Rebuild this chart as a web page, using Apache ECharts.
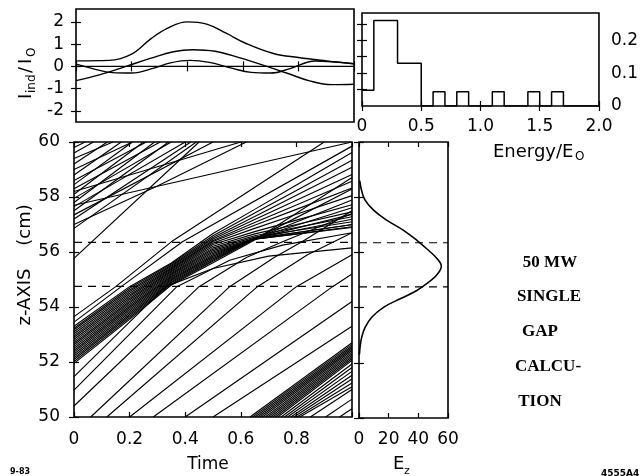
<!DOCTYPE html>
<html><head><meta charset="utf-8">
<script src="https://cdn.jsdelivr.net/npm/echarts@6/dist/echarts.min.js"></script>
<style>html,body{margin:0;padding:0;background:#fff}#c{width:641px;height:476px}</style>
</head><body><div id="c"></div>
<script>
// ---------- induced current panel (Time, I_ind/I_O) ----------
const currentA = [[0,0.25],[0.12,0.27],[0.2,0.55],[0.27,1.25],[0.33,1.72],[0.4,2.0],[0.47,1.9],[0.54,1.49],[0.61,1.04],[0.71,0.58],[0.8,0.4],[0.9,0.25],[1.0,0.12]];
const currentB = [[0,-0.64],[0.084,-0.38],[0.18,0.0],[0.27,0.37],[0.35,0.66],[0.42,0.75],[0.5,0.68],[0.59,0.38],[0.67,0.07],[0.76,-0.31],[0.84,-0.65],[0.92,-0.82],[1.0,-0.8]];
const currentC = [[0,0.1],[0.06,-0.1],[0.13,-0.28],[0.2,-0.3],[0.28,-0.08],[0.34,0.16],[0.41,0.27],[0.48,0.18],[0.56,-0.08],[0.63,-0.27],[0.7,-0.3],[0.77,-0.1],[0.86,0.24],[0.93,0.2],[1.0,0.12]];
const currentZero = [[0,0],[1,0]];
const currentTicks = [-2,-1,0,1,2];

// ---------- energy histogram ----------
const energyBinStart = [0,0.1,0.2,0.3,0.4,0.5,0.6,0.7,0.8,0.9,1.0,1.1,1.2,1.3,1.4,1.5,1.6,1.7,1.8,1.9,2.0];
const energyFraction = [0.048,0.26,0.26,0.13,0.13,0,0.043,0,0.043,0,0,0.043,0,0,0.043,0,0.043,0,0,0,0];
const energyTickLabels = [0,0.1,0.2];
const energyMinorTicks = [0.05,0.1,0.15,0.2,0.25];

// ---------- gap field profile (E_z vs z) ----------
const fieldEz = [0.5,1.5,4,9.8,18.9,30,39,47,52.7,55.5,53,47,39,27.8,16.5,8.6,4.1,1.8,0.8,0.3];
const fieldZ  = [58.6,58.3,57.9,57.53,57.16,56.8,56.44,56.07,55.77,55.5,55.22,54.92,54.62,54.32,54.01,53.65,53.28,52.92,52.6,52.3];
const gapEdges = [54.75, 56.35];

// ---------- electron trajectories (Time, z) ----------
const bunchTimes = [0,0.2,0.35,0.5,0.65,0.8,1.0];
const bunchZ = [
 [51.95,53.55,54.80,55.61,56.44,57.41,58.71],
 [52.02,53.61,54.84,55.66,56.47,57.25,58.29],
 [52.09,53.67,54.88,55.70,56.49,57.09,57.89],
 [52.15,53.73,54.92,55.75,56.49,56.97,57.61],
 [52.22,53.79,54.96,55.80,56.49,56.87,57.37],
 [52.29,53.85,55.00,55.85,56.49,56.79,57.19],
 [52.36,53.91,55.04,55.90,56.47,56.70,57.00],
 [52.42,53.97,55.08,55.95,56.47,56.66,56.92],
 [52.49,54.03,55.12,56.00,56.47,56.65,56.89],
 [52.56,54.09,55.16,56.05,56.50,56.71,56.99],
 [52.63,54.15,55.20,56.10,56.54,56.78,57.10],
 [52.69,54.20,55.24,56.15,56.59,56.89,57.28],
 [52.76,54.26,55.28,56.21,56.66,57.00,57.46],
 [52.83,54.32,55.32,56.27,56.74,57.16,57.72],
 [52.90,54.38,55.36,56.33,56.86,57.37,58.05],
 [52.96,54.44,55.40,56.38,56.97,57.55,58.33],
 [53.03,54.50,55.44,56.42,57.07,57.71,58.57],
 [53.10,54.56,55.48,56.47,57.18,57.88,58.82],
 [53.17,54.62,55.52,56.53,57.29,58.06,59.08],
 [53.23,54.68,55.56,56.59,57.42,58.24,59.34],
 [53.30,54.74,55.60,56.67,57.55,58.44,59.62]
];
// next bunch: [time at z=50, z at time 1]
const nextBunch = [
 [0.633,52.70],[0.642,52.64],[0.651,52.58],[0.660,52.53],[0.669,52.47],[0.678,52.42],
 [0.688,52.36],[0.697,52.30],[0.706,52.24],[0.715,52.18],[0.724,52.12],[0.733,52.06],
 [0.745,51.93],[0.757,51.80],[0.768,51.66],[0.780,51.52],[0.791,51.38],[0.802,51.24],[0.812,51.10],
 [0.85,51.0],[0.905,50.65],[0.955,50.3]
];
// previous bunch leaving the top-left: [z at time 0, time at z=60]
const previousBunch = [
 [57.20,0.42],[57.35,0.50],[57.50,0.34],[57.65,0.40],[57.80,0.29],[57.95,0.35],[58.10,0.25],[58.30,0.31],
 [58.45,0.21],[58.60,0.26],[58.80,0.17],[59.00,0.21],[59.20,0.12],[59.40,0.14],[59.60,0.07],[59.80,0.04]
];
const backgroundTraj = [
 [[0,51.47],[0.33,54.74],[0.5,55.4],[0.7,55.85],[1.0,56.15]],
 [[0,50.98],[0.37,54.74],[0.56,55.7],[0.75,56.25],[1.0,56.7]],
 [[0,50.40],[0.45,54.74],[0.62,55.8],[0.75,56.37],[1.0,57.4]],
 [[0.06,50],[0.56,54.74],[0.72,55.8],[0.82,56.37],[1.0,57.5]],
 [[0.118,50],[0.66,54.74],[0.84,55.9],[1.0,56.7]],
 [[0.2,50],[0.8,54.74],[1.0,55.9]],
 [[0.285,50],[0.93,54.74],[1.0,55.2]],
 [[0.4,50],[1.0,54.2]],
 [[0.5,50],[1.0,53.3]],
 [[0,53.45],[0.17,54.74],[0.39,56.37],[1.0,59.85]],
 [[0,53.65],[0.15,54.74],[0.35,56.37],[0.9,60]],
 [[0,55.77],[0.45,60]],
 [[0,56.86],[0.44,60]],
 [[0,57.7],[1.0,60]],
 [[0,57.0],[0.3,58.4],[0.62,60]],
 [[0,58.2],[0.6,60]]
];

const SANS = "'DejaVu Sans', sans-serif";
const SERIF = "'Liberation Serif', 'DejaVu Serif', serif";
const LBL = {color:'#000', fontFamily:SANS, fontSize:17};
const tick = {show:true, inside:true, length:5, lineStyle:{color:'#000', width:1.2}};
const noLine = {show:false};
const noSplit = {show:false};

const chart = echarts.init(document.getElementById('c'), null, {renderer:'canvas'});

const gridBase = {show:true, borderColor:'#000', borderWidth:1.6, backgroundColor:'transparent'};
const grids = [
  Object.assign({left:76, top:9, width:278, height:113}, gridBase),
  Object.assign({left:362, top:13, width:238, height:93}, gridBase),
  Object.assign({left:74, top:142, width:278, height:275}, gridBase),
  Object.assign({left:359, top:142, width:89, height:276}, gridBase)
];

const xAxes = [
  {gridIndex:0, type:'value', position:'bottom', min:0, max:1, interval:0.2, axisLine:noLine, splitLine:noSplit, axisTick:tick, axisLabel:{show:false}},
  {gridIndex:0, type:'value', position:'top', min:0, max:1, interval:0.2, axisLine:noLine, splitLine:noSplit, axisTick:tick, axisLabel:{show:false}},
  {gridIndex:1, type:'value', position:'bottom', min:0, max:2, interval:0.5, axisLine:noLine, splitLine:noSplit, axisTick:tick,
   axisLabel:Object.assign({margin:12, formatter:v => v===0 ? '0' : v.toFixed(1)}, LBL)},
  {gridIndex:1, type:'value', position:'top', min:0, max:2, interval:0.5, axisLine:noLine, splitLine:noSplit, axisTick:tick, axisLabel:{show:false}},
  {gridIndex:2, type:'value', position:'bottom', min:0, max:1, interval:0.2, axisLine:noLine, splitLine:noSplit, axisTick:tick,
   axisLabel:Object.assign({margin:14, formatter:v => (v===0 ? '0' : (v>=0.999 ? '' : v.toFixed(1)))}, LBL)},
  {gridIndex:2, type:'value', position:'top', min:0, max:1, interval:0.2, axisLine:noLine, splitLine:noSplit, axisTick:tick, axisLabel:{show:false}},
  {gridIndex:3, type:'value', position:'bottom', min:0, max:60, interval:20, axisLine:noLine, splitLine:noSplit, axisTick:tick,
   axisLabel:Object.assign({margin:13}, LBL)},
  {gridIndex:3, type:'value', position:'top', min:0, max:60, interval:20, axisLine:noLine, splitLine:noSplit, axisTick:tick, axisLabel:{show:false}}
];

const yAxes = [
  {gridIndex:0, type:'value', position:'left', min:-2.5, max:2.58, axisLine:noLine, splitLine:noSplit,
   axisTick:Object.assign({customValues:currentTicks}, tick),
   axisLabel:Object.assign({margin:12, customValues:currentTicks, formatter:v => String(v)}, LBL)},
  {gridIndex:0, type:'value', position:'right', min:-2.5, max:2.58, axisLine:noLine, splitLine:noSplit,
   axisTick:Object.assign({customValues:currentTicks}, tick), axisLabel:{show:false}},
  {gridIndex:1, type:'value', position:'left', min:0, max:0.283, axisLine:noLine, splitLine:noSplit,
   axisTick:Object.assign({customValues:energyMinorTicks}, tick), axisLabel:{show:false}},
  {gridIndex:1, type:'value', position:'right', min:0, max:0.283, axisLine:noLine, splitLine:noSplit,
   axisTick:Object.assign({customValues:energyMinorTicks}, tick),
   axisLabel:Object.assign({margin:12, customValues:energyTickLabels, formatter:v => v===0 ? '0' : v.toFixed(1)}, LBL)},
  {gridIndex:2, type:'value', position:'left', min:50, max:60, interval:2, axisLine:noLine, splitLine:noSplit, axisTick:tick,
   axisLabel:Object.assign({margin:14}, LBL)},
  {gridIndex:2, type:'value', position:'right', min:50, max:60, interval:2, axisLine:noLine, splitLine:noSplit, axisTick:tick, axisLabel:{show:false}},
  {gridIndex:3, type:'value', position:'left', min:50, max:60, interval:2, axisLine:noLine, splitLine:noSplit, axisTick:tick, axisLabel:{show:false}},
  {gridIndex:3, type:'value', position:'right', min:50, max:60, interval:2, axisLine:noLine, splitLine:noSplit, axisTick:tick, axisLabel:{show:false}}
];

const series = [];
function addLine(data, xi, yi, opts) {
  series.push(Object.assign({
    type:'line', xAxisIndex:xi, yAxisIndex:yi, data:data, showSymbol:false, symbol:'none',
    silent:true, clip:true, lineStyle:{color:'#000', width:1}, z:3
  }, opts || {}));
}

// induced currents
[currentA, currentB, currentC].forEach(d => addLine(d, 0, 0, {smooth:0.4, lineStyle:{color:'#000', width:1.4}}));
addLine(currentZero, 0, 0, {lineStyle:{color:'#000', width:1.2}});

// histogram
addLine(energyBinStart.map((x,i) => [x, energyFraction[i]]), 2, 2, {step:'end', lineStyle:{color:'#000', width:1.5}});

// trajectories (straight segments between read points)
const trajStyle = {lineStyle:{color:'#000', width:1.15}};
bunchZ.forEach(row => addLine(row.map((z,i) => [bunchTimes[i], z]), 4, 4, trajStyle));
nextBunch.forEach(p => addLine([[p[0], 50], [1, p[1]]], 4, 4, trajStyle));
previousBunch.forEach(p => addLine([[0, p[0]], [p[1], 60]], 4, 4, trajStyle));
backgroundTraj.forEach(d => addLine(d, 4, 4, trajStyle));

// gap edges (dashed)
gapEdges.forEach(z => {
  addLine([[0, z], [1, z]], 4, 4, {lineStyle:{color:'#000', width:1.2, type:[8,6]}, z:4});
  addLine([[0, z], [60, z]], 6, 6, {lineStyle:{color:'#000', width:1.2, type:[8,6]}, z:4});
});

// field profile
addLine(fieldEz.map((e,i) => [e, fieldZ[i]]), 6, 6, {smooth:0.4, lineStyle:{color:'#000', width:1.6}});

function txt(x, y, text, size, extra) {
  return {type:'text', x:x, y:y, silent:true, style:Object.assign({
    text:text, fill:'#000', fontFamily:SANS, fontSize:size,
    align:'center', textAlign:'center', verticalAlign:'middle', textVerticalAlign:'middle'
  }, extra || {})};
}
const leftMid = {align:'left', textAlign:'left'};
const boldSerif = {fontFamily:SERIF, fontWeight:'bold'};

const graphic = [
  txt(208, 465, 'Time', 17),
  txt(393, 464, 'E', 18, leftMid),
  txt(404, 471, 'z', 11, leftMid),
  txt(493, 152, 'Energy/E', 18, leftMid),
  txt(575, 157, 'O', 12, leftMid),
  {type:'group', x:26, y:64, rotation:Math.PI/2, silent:true, children:[
    txt(-35, 0, 'I', 18, leftMid),
    txt(-29, 6, 'ind', 12, leftMid),
    txt(-9, 0, '/', 18, leftMid),
    txt(0, 0, 'I', 18, leftMid),
    txt(7, 6, 'O', 12, leftMid)
  ]},
  {type:'group', x:25, y:272, rotation:Math.PI/2, silent:true, children:[
    txt(-25, 0, 'z-AXIS', 18),
    txt(47, 0, '(cm)', 18)
  ]},
  txt(550, 263, '50 MW', 17, boldSerif),
  txt(549, 297, 'SINGLE', 17, boldSerif),
  txt(540, 332, 'GAP', 17, boldSerif),
  txt(548, 367, 'CALCU-', 17, boldSerif),
  txt(540, 402, 'TION', 17, boldSerif),
  txt(10, 472, '9-83', 8, {fontWeight:'bold', align:'left', textAlign:'left'}),
  txt(601, 474, '4555A4', 9, {fontWeight:'bold', align:'left', textAlign:'left'})
];

chart.setOption({
  animation:false,
  backgroundColor:'#fff',
  grid:grids,
  xAxis:xAxes,
  yAxis:yAxes,
  series:series,
  graphic:graphic
});
</script>
</body></html>
